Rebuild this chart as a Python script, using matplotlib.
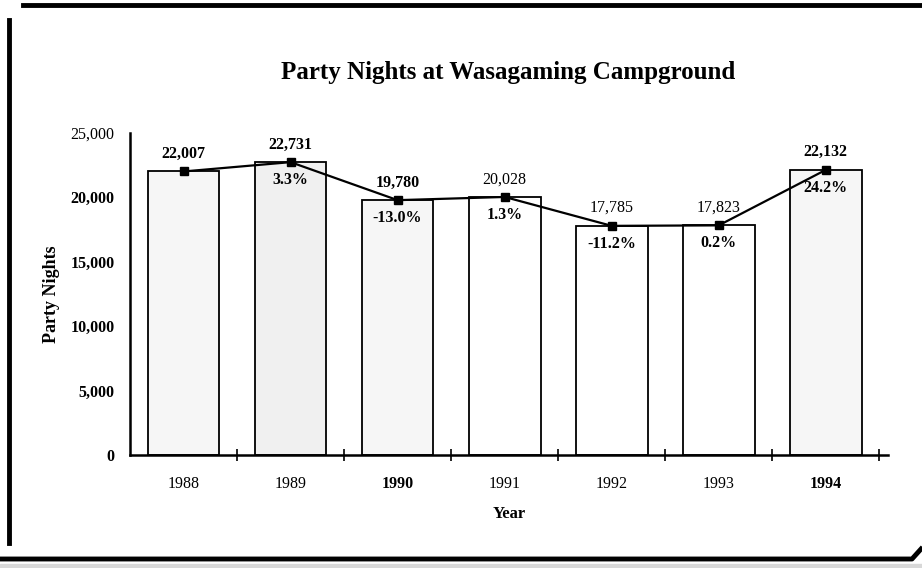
import matplotlib
matplotlib.use("Agg")
import matplotlib.pyplot as plt
from matplotlib.lines import Line2D
from matplotlib.patches import Rectangle

plt.rcParams['font.family'] = ['Liberation Serif', 'DejaVu Serif']

years = ["1988", "1989", "1990", "1991", "1992", "1993", "1994"]
party_nights = [22007, 22731, 19780, 20028, 17785, 17823, 22132]
value_labels = ["22,007", "22,731", "19,780", "20,028", "17,785", "17,823", "22,132"]
pct_labels = ["", "3.3%", "-13.0%", "1.3%", "-11.2%", "0.2%", "24.2%"]
y_ticks = [0, 5000, 10000, 15000, 20000, 25000]
y_tick_labels = ["0", "5,000", "10,000", "15,000", "20,000", "25,000"]
value_bold = [True, True, True, False, False, False, True]
year_bold = [False, False, True, False, False, False, True]
bar_faces = ["#f6f6f6", "#f0f0f0", "#f6f6f6", "white", "white", "white", "#f6f6f6"]

fig = plt.figure(figsize=(9.22, 5.68), dpi=100)
ax = fig.add_axes([0.141, 0.199, 0.822, 0.567])

x = list(range(len(years)))
ax.bar(x, party_nights, width=0.67, color=bar_faces, edgecolor="black", linewidth=1.3, zorder=2)
ax.plot(x, party_nights, color="black", linewidth=1.6, marker="s", markersize=6, zorder=3)

for i, v in enumerate(party_nights):
    ax.annotate(value_labels[i], (i, v), xytext=(0, 7), textcoords="offset points",
                ha="center", va="bottom", fontsize=11.5,
                fontweight="bold" if value_bold[i] else "normal", zorder=4)
    if pct_labels[i]:
        ax.annotate(pct_labels[i], (i, v), xytext=(0, -7), textcoords="offset points",
                    ha="center", va="top", fontsize=11.5, fontweight="bold", zorder=4)

ax.set_xlim(-0.50, 6.58)
ax.set_ylim(0, 25000)
ax.set_yticks(y_ticks)
ax.set_yticklabels(y_tick_labels, fontsize=11.5)
for lab, t in zip(ax.get_yticklabels(), y_tick_labels):
    lab.set_fontweight("normal" if t == "25,000" else "bold")
ax.tick_params(axis="y", length=0, pad=11)

ax.set_xticks(x)
ax.set_xticklabels(years, fontsize=11.5)
for lab, b in zip(ax.get_xticklabels(), year_bold):
    lab.set_fontweight("bold" if b else "normal")
ax.tick_params(axis="x", which="major", length=0, pad=15)
ax.set_xticks([i + 0.5 for i in range(len(years))], minor=True)
ax.tick_params(axis="x", which="minor", direction="inout", length=9, width=1.2)

for s in ["top", "right"]:
    ax.spines[s].set_visible(False)
ax.spines["left"].set_linewidth(1.8)
ax.spines["bottom"].set_linewidth(1.8)

ax.set_ylabel("Party Nights", fontsize=13, fontweight="bold")
ax.yaxis.set_label_coords(-0.093, 0.5)
ax.set_xlabel("Year", fontsize=12, fontweight="bold", labelpad=10)

fig.text(0.551, 0.873, "Party Nights at Wasagaming Campground", ha="center", va="center",
         fontsize=18, fontweight="bold")

# scanned page frame
W, H = 922, 568
fig.add_artist(Line2D([23 / W, 1.0], [1 - 5 / H, 1 - 5 / H], color="black", linewidth=3.5))
fig.add_artist(Line2D([9 / W, 9 / W], [1 - 20 / H, 1 - 543 / H], color="black", linewidth=3.5))
fig.add_artist(Line2D([0.0, 912 / W, 921 / W], [1 - 559 / H, 1 - 559 / H, 1 - 549 / H],
                      color="black", linewidth=3.5))
fig.add_artist(Rectangle((0, 0), 1, 4 / H, transform=fig.transFigure, color="#d8d8d8", zorder=0))

fig.savefig("out.png", dpi=100)
